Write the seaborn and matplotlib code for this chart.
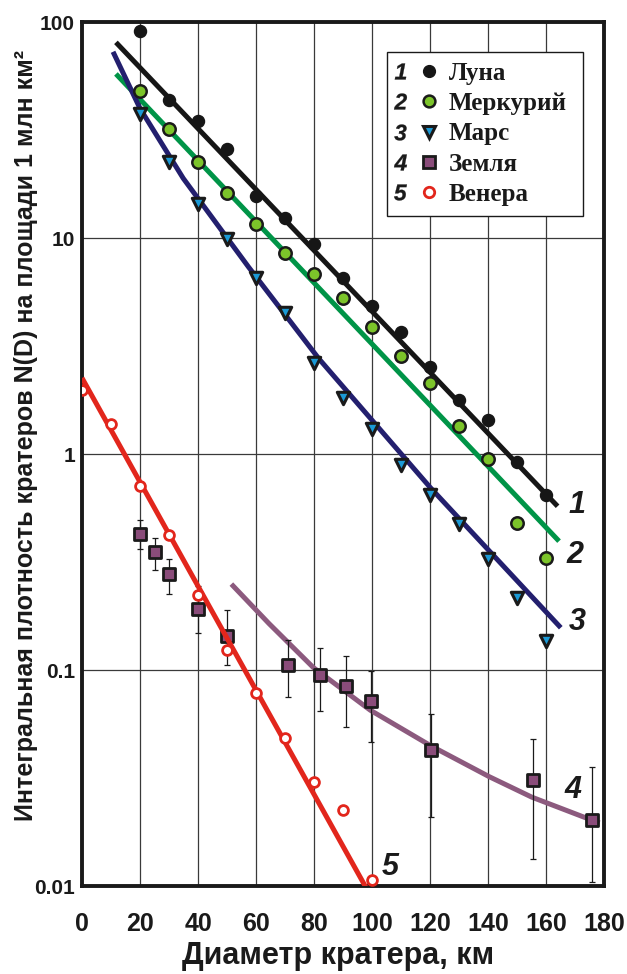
import numpy as np
import seaborn as sns
import matplotlib.pyplot as plt
from matplotlib.lines import Line2D
from matplotlib.legend_handler import HandlerTuple
from matplotlib.ticker import NullLocator
from matplotlib.textpath import TextPath
from matplotlib.font_manager import FontProperties
from matplotlib.transforms import Affine2D

# Crater counts N(D) per 1 mln km^2
luna_x = [20, 30, 40, 50, 60, 70, 80, 90, 100, 110, 120, 130, 140, 150, 160]
luna_y = [90.6, 43.4, 34.8, 25.8, 15.7, 12.4, 9.35, 6.56, 4.84, 3.66, 2.52, 1.78, 1.44, 0.916, 0.643]
merc_x = [20, 30, 40, 50, 60, 70, 80, 90, 100, 110, 120, 130, 140, 150, 160]
merc_y = [47.9, 31.9, 22.5, 16.1, 11.6, 8.53, 6.79, 5.28, 3.88, 2.84, 2.13, 1.35, 0.952, 0.477, 0.331]
mars_x = [20, 30, 40, 50, 60, 70, 80, 90, 100, 110, 120, 130, 140, 150, 160]
mars_y = [37.7, 22.5, 14.3, 9.93, 6.56, 4.48, 2.65, 1.81, 1.31, 0.893, 0.648, 0.472, 0.328, 0.215, 0.136]
earth_x = [20, 25, 30, 40, 50, 71, 82, 91, 99.5, 120.5, 155.5, 176]
earth_y = [0.427, 0.351, 0.277, 0.191, 0.144, 0.1056, 0.0944, 0.0846, 0.0721, 0.0425, 0.0311, 0.0203]
earth_hi = [0.497, 0.409, 0.325, 0.246, 0.190, 0.138, 0.127, 0.1156, 0.0989, 0.0628, 0.0481, 0.0357]
earth_lo = [0.364, 0.292, 0.225, 0.148, 0.105, 0.0748, 0.0644, 0.0543, 0.0462, 0.0208, 0.0134, 0.01045]
venus_x = [0, 10, 20, 30, 40, 50, 60, 70, 80, 90, 100]
venus_y = [1.98, 1.38, 0.714, 0.421, 0.222, 0.124, 0.0787, 0.0486, 0.0303, 0.0226, 0.01066]

# fitted curves as drawn
luna_fit_x = [11.7, 164]
luna_fit_y = [80.5, 0.573]
merc_fit_x = [11.7, 164.5]
merc_fit_y = [57.5, 0.395]
mars_fit_x = [10.7, 20, 34.9, 57.4, 81.6, 120.2, 165.1]
mars_fit_y = [72.8, 39.8, 18.9, 7.35, 2.77, 0.697, 0.157]
earth_fit_x = [51.5, 64.5, 79.8, 99.4, 120.4, 140.4, 155.1, 176.6, 178.5]
earth_fit_y = [0.25, 0.164, 0.1026, 0.0652, 0.0445, 0.0321, 0.0258, 0.0200, 0.0196]
venus_fit_x = [0, 98]
venus_fit_y = [2.25, 0.0098]

names = ['Луна', 'Меркурий', 'Марс', 'Земля', 'Венера']
numbers = ['1', '2', '3', '4', '5']
x_ticks = [0, 20, 40, 60, 80, 100, 120, 140, 160, 180]
y_ticks = [0.01, 0.1, 1, 10, 100]
y_ticklabels = ['0.01', '0.1', '1', '10', '100']

sns.set_style('white')
plt.rcParams['font.family'] = ['Liberation Sans', 'DejaVu Sans']

ink = '#1a1a1a'
c_luna, c_merc_line, c_merc = '#161616', '#009447', '#7cc42a'
c_mars_line, c_mars = '#231f6e', '#1b9ad6'
c_earth_line, c_earth = '#8c5a7e', '#8a4c7a'
c_venus = '#e2261c'

fig = plt.figure(figsize=(6.27, 9.74), dpi=100)
ax = fig.add_axes([0.1308, 0.0903, 0.8325, 0.8871])

line_kw = dict(ax=ax, sort=False, estimator=None, lw=3.6, solid_capstyle='butt')
sns.lineplot(x=luna_fit_x, y=luna_fit_y, color=c_luna, zorder=2, **line_kw)
sns.lineplot(x=merc_fit_x, y=merc_fit_y, color=c_merc_line, zorder=2, **line_kw)
sns.lineplot(x=mars_fit_x, y=mars_fit_y, color=c_mars_line, zorder=2, **line_kw)
sns.lineplot(x=earth_fit_x, y=earth_fit_y, color=c_earth_line, zorder=2, **line_kw)
sns.lineplot(x=venus_fit_x, y=venus_fit_y, color=c_venus, zorder=4, **line_kw)

err = [np.array(earth_y) - np.array(earth_lo), np.array(earth_hi) - np.array(earth_y)]
ax.errorbar(earth_x, earth_y, yerr=err, fmt='none', ecolor=ink, elinewidth=0.9,
            capsize=2.5, capthick=0.9, zorder=2.5)

sns.scatterplot(x=luna_x, y=luna_y, marker='o', s=75, color=c_luna, edgecolor=c_luna,
                linewidth=1, ax=ax, zorder=3)
sns.scatterplot(x=merc_x, y=merc_y, marker='o', s=80, color=c_merc, edgecolor=ink,
                linewidth=1.8, ax=ax, zorder=3)
sns.scatterplot(x=mars_x, y=mars_y, marker='v', s=80, color=c_mars, edgecolor=ink,
                linewidth=2.2, ax=ax, zorder=3)
sns.scatterplot(x=earth_x, y=earth_y, marker='s', s=70, color=c_earth, edgecolor=ink,
                linewidth=2.0, ax=ax, zorder=3)
sns.scatterplot(x=venus_x, y=venus_y, marker='o', s=50, color='white', edgecolor=c_venus,
                linewidth=2.0, ax=ax, zorder=5)

ax.set_yscale('log')
ax.set_xlim(0, 180)
ax.set_ylim(0.01, 100)
ax.set_xticks(x_ticks)
ax.set_yticks(y_ticks)
ax.set_yticklabels(y_ticklabels)
ax.yaxis.set_minor_locator(NullLocator())
ax.tick_params(axis='x', length=0, pad=19, labelsize=18, labelcolor=ink)
ax.tick_params(axis='y', length=0, pad=5, labelsize=15, labelcolor=ink)
for lab in ax.get_xticklabels() + ax.get_yticklabels():
    lab.set_fontweight('bold')
ax.grid(True, color='#3a3a3a', lw=0.9)
ax.set_axisbelow(True)
for sp in ax.spines.values():
    sp.set_linewidth(2.8)
    sp.set_color(ink)

ax.set_xlabel('Диаметр кратера, км', fontsize=22, fontweight='bold', color=ink)
ax.xaxis.label.set_va('bottom')
ax.xaxis.set_label_coords(0.49, -0.0985)
ax.set_ylabel('Интегральная плотность кратеров N(D) на площади 1 млн км²',
              fontsize=18, fontweight='bold', color=ink)
ax.yaxis.set_label_coords(-0.0843, 0.522)

# curve numbers
label_kw = dict(fontsize=22, fontweight='bold', fontstyle='italic', color=ink,
                ha='center', va='center', zorder=6)
ax.text(170.8, 0.583, '1', **label_kw)
ax.text(170, 0.34, '2', **label_kw)
ax.text(170.8, 0.166, '3', **label_kw)
ax.text(169.3, 0.0277, '4', **label_kw)
ax.text(106.2, 0.0122, '5', **label_kw)


# legend: italic number + marker + name
def digit_marker(s):
    tp = TextPath((0, 0), s, prop=FontProperties(family='Liberation Sans', weight='bold', style='italic'))
    ext = tp.get_extents()
    return tp.transformed(Affine2D().translate(-ext.x0 - ext.width / 2, -ext.y0 - ext.height / 2))


num_h = [Line2D([], [], ls='none', marker=digit_marker(n), ms=11.5, color=ink, mew=0.2)
         for n in numbers]
mk_h = [
    Line2D([], [], ls='none', marker='o', ms=8.5, mfc=c_luna, mec=c_luna),
    Line2D([], [], ls='none', marker='o', ms=8.5, mfc=c_merc, mec=ink, mew=1.8),
    Line2D([], [], ls='none', marker='v', ms=9, mfc=c_mars, mec=ink, mew=2.2),
    Line2D([], [], ls='none', marker='s', ms=8, mfc=c_earth, mec=ink, mew=2.0),
    Line2D([], [], ls='none', marker='o', ms=7.5, mfc='white', mec=c_venus, mew=2.0),
]
leg = ax.legend(list(zip(num_h, mk_h)), names,
                handler_map={tuple: HandlerTuple(ndivide=None, pad=0.92)},
                loc='upper left', bbox_to_anchor=(0.584, 0.0, 0.3755, 0.9653), mode='expand',
                borderaxespad=0,
                prop=dict(family='Liberation Serif', weight='bold', size=18),
                handlelength=1.4, handletextpad=0.69, borderpad=0.4, labelspacing=0.29,
                fancybox=False, framealpha=1, edgecolor=ink)
leg.get_frame().set_linewidth(1.0)
for t in leg.get_texts():
    t.set_color(ink)

fig.savefig('out.png', dpi=100)
